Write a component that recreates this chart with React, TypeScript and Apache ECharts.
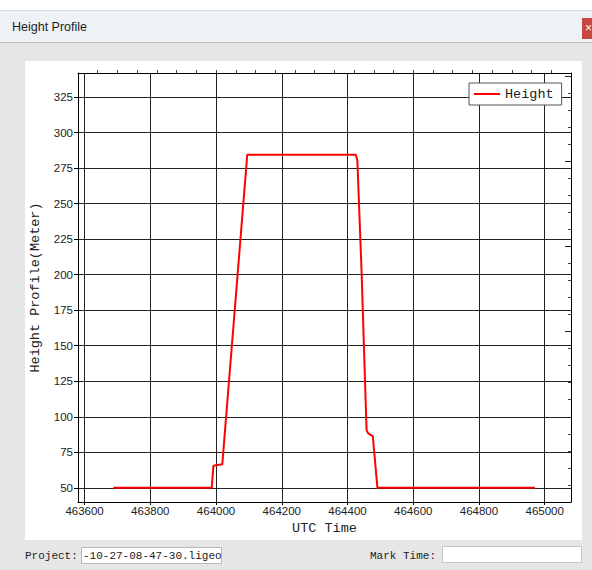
import React, { useEffect, useRef } from "react";
import * as echarts from "echarts";

// ---- data ----
const timeValues = [463688, 463987, 463992, 464019, 464095, 464425, 464430, 464443, 464458, 464463, 464477, 464491, 464970];
const heightValues = [50, 50, 65.5, 66.5, 284.5, 284.5, 280.5, 200.8, 90.6, 88.3, 86.4, 50, 50];

const xTickValues = [463600, 463800, 464000, 464200, 464400, 464600, 464800, 465000];
const yTickValues = [50, 75, 100, 125, 150, 175, 200, 225, 250, 275, 300, 325];
const topMinorTicks = [463640, 463700, 463760, 463820, 463880, 463940, 464000, 464060, 464120, 464180, 464240, 464300, 464360, 464420, 464480, 464540, 464600, 464660, 464720, 464780, 464840, 464900, 464960, 465020];
const rightMinorTicks = [52, 64, 76, 88, 112, 124, 136, 148, 172, 184, 196, 208, 232, 244, 256, 268, 292, 304, 316, 328];
const rightMajorTicks = [100, 160, 220, 280, 340];

const X_MIN = 463580;
const X_MAX = 465080;
const Y_MIN = 40;
const Y_MAX = 342;

const MONO = "Liberation Mono";
const SANS = "Liberation Sans";

export default function App() {
  const ref = useRef<HTMLDivElement>(null);

  useEffect(() => {
    if (!ref.current) return;
    const chart = echarts.init(ref.current, undefined, { renderer: "svg" });
    const seriesData = timeValues.map((t, i) => [t, heightValues[i]]);

    const option: any = {
      animation: false,
      backgroundColor: "#e6e6e6",
      grid: { left: 78, top: 73, width: 493, height: 429, containLabel: false, outerBoundsMode: "none" },
      legend: {
        show: true,
        left: 469,
        top: 83,
        backgroundColor: "#ffffff",
        borderColor: "#555555",
        borderWidth: 1,
        borderRadius: 0,
        padding: [4, 8, 4, 5],
        itemWidth: 26,
        itemHeight: 2,
        icon: "rect",
        textStyle: { fontFamily: MONO, fontSize: 13.5, color: "#222" },
        data: ["Height"],
      },
      xAxis: [
        {
          type: "value",
          min: X_MIN,
          max: X_MAX,
          position: "bottom",
          name: "UTC Time",
          nameLocation: "middle",
          nameGap: 19,
          nameTextStyle: { fontFamily: MONO, fontSize: 13.5, color: "#222" },
          axisLine: { show: true, onZero: false, lineStyle: { color: "#000", width: 1 } },
          axisTick: { show: true, customValues: xTickValues, length: 3, lineStyle: { color: "#000" } },
          axisLabel: {
            customValues: xTickValues,
            margin: 3,
            fontFamily: SANS,
            fontSize: 11.5,
            color: "#222",
            formatter: (v: number) => String(v),
          },
          splitLine: { show: true, lineStyle: { color: "#222", width: 1 } },
        },
        {
          type: "value",
          min: X_MIN,
          max: X_MAX,
          position: "top",
          axisLine: { show: true, onZero: false, lineStyle: { color: "#000", width: 1 } },
          axisTick: { show: true, customValues: topMinorTicks, length: 3, inside: false, lineStyle: { color: "#444" } },
          axisLabel: { show: false },
          splitLine: { show: false },
        },
      ],
      yAxis: [
        {
          type: "value",
          min: Y_MIN,
          max: Y_MAX,
          position: "left",
          name: "Height Profile(Meter)",
          nameLocation: "middle",
          nameGap: 31,
          nameTextStyle: { fontFamily: MONO, fontSize: 13.5, color: "#222" },
          axisLine: { show: true, onZero: false, lineStyle: { color: "#000", width: 1 } },
          axisTick: { show: true, customValues: yTickValues, length: 4, lineStyle: { color: "#000" } },
          axisLabel: {
            customValues: yTickValues,
            margin: 5,
            fontFamily: SANS,
            fontSize: 11.5,
            color: "#222",
            formatter: (v: number) => String(v),
          },
          splitLine: { show: true, lineStyle: { color: "#222", width: 1 } },
        },
        {
          type: "value",
          min: Y_MIN,
          max: Y_MAX,
          position: "right",
          axisLine: { show: true, onZero: false, lineStyle: { color: "#000", width: 1 } },
          axisTick: { show: true, customValues: rightMinorTicks, length: 3, inside: true, lineStyle: { color: "#444" } },
          axisLabel: { show: false },
          splitLine: { show: false },
        },
        {
          type: "value",
          min: Y_MIN,
          max: Y_MAX,
          position: "right",
          axisLine: { show: false },
          axisTick: { show: true, customValues: rightMajorTicks, length: 6, inside: true, lineStyle: { color: "#222" } },
          axisLabel: { show: false },
          splitLine: { show: false },
        },
      ],
      series: [
        {
          name: "Height",
          type: "line",
          xAxisIndex: 0,
          yAxisIndex: 0,
          data: seriesData,
          showSymbol: false,
          symbol: "none",
          color: "#ff0000",
          lineStyle: { color: "#ff0000", width: 2 },
          z: 5,
        },
      ],
      graphic: [
        { type: "rect", z: -10, shape: { x: 0, y: 0, width: 592, height: 10 }, style: { fill: "#ffffff" } },
        { type: "rect", z: -10, shape: { x: 0, y: 10, width: 592, height: 32 }, style: { fill: "#eef2f6" } },
        { type: "line", z: -9, shape: { x1: 0, y1: 10.5, x2: 592, y2: 10.5 }, style: { stroke: "#d4d8dc", lineWidth: 1 } },
        { type: "line", z: -9, shape: { x1: 0, y1: 42.5, x2: 592, y2: 42.5 }, style: { stroke: "#b8bcc0", lineWidth: 1 } },
        { type: "rect", z: -10, shape: { x: 25, y: 61, width: 557, height: 479 }, style: { fill: "#ffffff" } },
        { type: "rect", z: -9, shape: { x: 582, y: 18, width: 10, height: 21 }, style: { fill: "#c9463f" } },
        { type: "text", z: -8, x: 585, y: 28, style: { text: "×", fill: "#ffffff", font: "12px Liberation Sans", verticalAlign: "middle" } },
        { type: "text", z: -8, x: 12, y: 27, style: { text: "Height Profile", fill: "#1e1e1e", font: "12.5px Liberation Sans", verticalAlign: "middle" } },
        { type: "text", z: -8, x: 25, y: 555.5, style: { text: "Project:", fill: "#222", font: "11px Liberation Mono", verticalAlign: "middle" } },
        { type: "rect", z: -9, shape: { x: 81.5, y: 547.5, width: 140, height: 16 }, style: { fill: "#ffffff", stroke: "#b8b8b8", lineWidth: 1 } },
        { type: "text", z: -8, x: 83, y: 555.5, style: { text: "-10-27-08-47-30.ligeo", fill: "#222", font: "11px Liberation Mono", verticalAlign: "middle" } },
        { type: "text", z: -8, x: 370, y: 555.5, style: { text: "Mark Time:", fill: "#222", font: "11px Liberation Mono", verticalAlign: "middle" } },
        { type: "rect", z: -9, shape: { x: 442.5, y: 546.5, width: 139, height: 16 }, style: { fill: "#ffffff", stroke: "#c4c4c4", lineWidth: 1 } },
      ],
    };

    chart.setOption(option);
    return () => chart.dispose();
  }, []);

  return (
    <div
      ref={ref}
      style={{ position: "fixed", left: 0, top: 0, width: 592, height: 570 }}
    />
  );
}
